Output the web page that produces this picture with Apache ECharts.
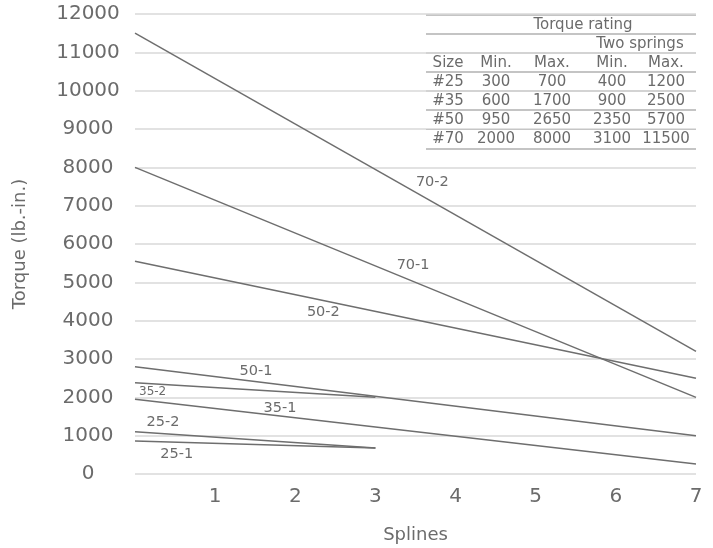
<!DOCTYPE html>
<html>
<head>
<meta charset="utf-8">
<script src="https://cdn.jsdelivr.net/npm/echarts@6/dist/echarts.min.js"></script>
<style>
  html, body { margin: 0; padding: 0; background: #fff; }
  #main { width: 713px; height: 548px; }
</style>
</head>
<body>
<div id="main"></div>
<script>
// lines: torque vs number of splines
const lineNames = ['70-2', '70-1', '50-2', '50-1', '35-2', '35-1', '25-2', '25-1']
const splinesStart = [0, 0, 0, 0, 0, 0, 0, 0]
const splinesEnd = [7, 7, 7, 7, 3, 7, 3, 3]
const torqueStart = [11500, 8000, 5550, 2800, 2380, 1950, 1100, 860]
const torqueEnd = [3200, 2000, 2500, 1000, 2000, 260, 680, 680]

// where each line's name sits (data coords)
const labelSplines = [3.71, 3.47, 2.35, 1.51, 0.22, 1.81, 0.35, 0.52]
const labelTorque = [7600, 5450, 4230, 2690, 2140, 1720, 1360, 520]

// torque rating table
const tableSizes = ['#25', '#35', '#50', '#70']
const oneMin = [300, 600, 950, 2000]
const oneMax = [700, 1700, 2650, 8000]
const twoMin = [400, 900, 2350, 3100]
const twoMax = [1200, 2500, 5700, 11500]
const tableHeader = ['Size', 'Min.', 'Max.', 'Min.', 'Max.']

const xTicks = [0, 1, 2, 3, 4, 5, 6, 7]
const yTicks = [0, 1000, 2000, 3000, 4000, 5000, 6000, 7000, 8000, 9000, 10000, 11000, 12000]

const FONT = 'DejaVu Sans'
const TXT = '#6b6b6b'
const LINE = '#6e6e6e'

let series = lineNames.map((name, i) => ({
  name: name,
  type: 'line',
  symbol: 'none',
  silent: true,
  lineStyle: { color: LINE, width: 1.5 },
  data: [[splinesStart[i], torqueStart[i]], [splinesEnd[i], torqueEnd[i]]],
  markPoint: {
    symbol: 'circle',
    symbolSize: 0,
    label: {
      show: true,
      position: 'inside',
      formatter: name,
      color: TXT,
      fontFamily: FONT,
      fontSize: name === '35-2' ? 12 : 14.5
    },
    data: [{ coord: [labelSplines[i], labelTorque[i]] }]
  }
}))

// table (graphic)
let colX = [448, 496, 552, 612, 666]
let rowLines = [15, 34, 53, 72, 91, 110, 129.5, 149]
let tbl = []
tbl.push({ type: 'rect', shape: { x: 417, y: 0, width: 290, height: 158 }, style: { fill: '#fff' } })
rowLines.forEach(y => {
  tbl.push({ type: 'line', shape: { x1: 426, y1: y, x2: 696, y2: y }, style: { stroke: '#8a8a8a', lineWidth: 1.2 } })
})
function txt(s, x, y) {
  return { type: 'text', style: { text: s, x: x, y: y, fill: TXT, font: '15px "' + FONT + '"', align: 'center', verticalAlign: 'middle' } }
}
tbl.push(txt('Torque rating', 583, 25))
tbl.push(txt('Two springs', 640, 44))
tableHeader.forEach((h, j) => tbl.push(txt(h, colX[j], 63)))
tableSizes.forEach((s, i) => {
  let y = 82 + i * 19
  let row = [s, oneMin[i], oneMax[i], twoMin[i], twoMax[i]]
  row.forEach((v, j) => tbl.push(txt(String(v), colX[j], y)))
})

let chart = echarts.init(document.getElementById('main'))
chart.setOption({
  animation: false,
  backgroundColor: '#fff',
  grid: { left: 135, right: 17, top: 14, bottom: 74, outerBoundsMode: 'none' },
  xAxis: {
    type: 'value',
    min: xTicks[0],
    max: xTicks[xTicks.length - 1],
    interval: 1,
    name: 'Splines',
    nameLocation: 'middle',
    nameGap: 52,
    nameTextStyle: { color: TXT, fontFamily: FONT, fontSize: 18 },
    axisLine: { show: false },
    axisTick: { show: false },
    splitLine: { show: false },
    axisLabel: {
      color: TXT, fontFamily: FONT, fontSize: 20, margin: 13,
      formatter: v => (v === 0 ? '' : String(v))
    }
  },
  yAxis: {
    type: 'value',
    min: yTicks[0],
    max: yTicks[yTicks.length - 1],
    interval: 1000,
    name: 'Torque (lb.-in.)',
    nameLocation: 'middle',
    nameGap: 106,
    nameTextStyle: { color: TXT, fontFamily: FONT, fontSize: 18 },
    axisLine: { show: false },
    axisTick: { show: false },
    splitLine: { lineStyle: { color: '#d9d9d9', width: 1.5 } },
    axisLabel: {
      color: TXT, fontFamily: FONT, fontSize: 20, margin: 47, align: 'center',
      formatter: v => String(v)
    }
  },
  graphic: tbl,
  series: series
})
</script>
</body>
</html>
